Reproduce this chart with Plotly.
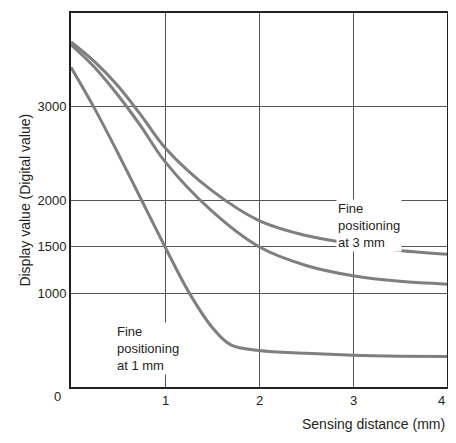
import plotly.graph_objects as go

xa = [0, 0.25, 0.5, 0.75, 1, 1.5, 2, 2.5, 3, 3.5, 4]
ya = [3690, 3480, 3220, 2900, 2560, 2100, 1780, 1620, 1530, 1460, 1420]
xb = [0, 0.25, 0.5, 0.75, 1, 1.5, 2, 2.5, 3, 3.5, 4]
yb = [3660, 3420, 3120, 2780, 2410, 1880, 1500, 1300, 1190, 1130, 1100]
xc = [0, 0.25, 0.5, 0.75, 1, 1.25, 1.5, 1.7, 2, 2.5, 3, 3.5, 4]
yc = [3420, 2980, 2500, 2000, 1500, 1020, 640, 450, 390, 360, 340, 330, 325]
xticks = [1, 2, 3, 4]
yticks = [1000, 1500, 2000, 3000, 4000]

fig = go.Figure()
for x, y in [(xa, ya), (xb, yb), (xc, yc)]:
    fig.add_trace(go.Scatter(x=x, y=y, mode="lines", line=dict(color="#7f7f7f", width=3, shape="spline"), hoverinfo="skip"))

ann = [
    dict(text="Display value (Digital value)", x=-0.15, y=0.5, xref="paper", yref="paper",
         textangle=-90, showarrow=False, font=dict(size=14)),
    dict(text="Sensing distance (mm)", x=1.0, y=-0.1, xref="paper", yref="paper",
         xanchor="right", yanchor="middle", showarrow=False, font=dict(size=14)),
    dict(text="0", x=-0.02, y=0, xref="paper", yref="y", xanchor="right", yanchor="top",
         showarrow=False),
    dict(text="Fine<br>positioning<br>at 3 mm", x=2.82, y=2010, xanchor="left", yanchor="top",
         align="left", showarrow=False, bgcolor="white", font=dict(size=13)),
    dict(text="Fine<br>positioning<br>at 1 mm", x=0.47, y=700, xanchor="left", yanchor="top",
         align="left", showarrow=False, bgcolor="white", font=dict(size=13)),
]
for t in xticks:
    ann.append(dict(text=str(t), x=t, y=-0.01, xref="x", yref="paper", yanchor="top",
                    xanchor="right" if t == 4 else "center", showarrow=False))

fig.update_layout(
    width=444, height=432, margin=dict(l=63, r=3, t=3, b=53),
    paper_bgcolor="white", plot_bgcolor="white", showlegend=False,
    font=dict(family="Liberation Sans, Arial", size=13, color="#231f20"),
    xaxis=dict(range=[0, 4], tickvals=xticks, showticklabels=False,
               showgrid=True, gridcolor="#555", gridwidth=1, zeroline=False,
               showline=True, linecolor="#231f20", linewidth=2, mirror=True, ticks="", fixedrange=True),
    yaxis=dict(range=[0, 4000], tickvals=yticks,
               showgrid=True, gridcolor="#555", gridwidth=1, zeroline=False,
               showline=True, linecolor="#231f20", linewidth=2, mirror=True, ticks="", fixedrange=True),
    annotations=ann,
)
fig.write_html("out.html")
